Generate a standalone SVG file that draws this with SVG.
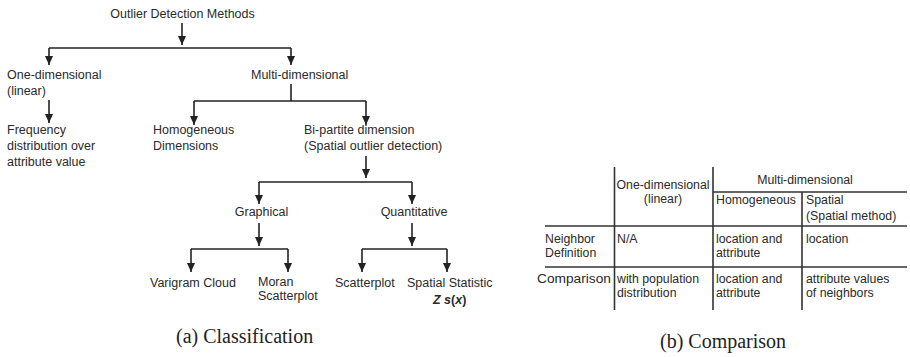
<svg xmlns="http://www.w3.org/2000/svg" width="910" height="357" viewBox="0 0 910 357">
<style>
  text { font-family: "Liberation Sans", Arial, sans-serif; font-size: 12.5px; fill: #2a2a2a; }
  .tb text { font-size: 12.3px; }
  .cap { font-family: "Liberation Serif", "Times New Roman", serif; font-size: 20px; fill: #222; }
  .c { text-anchor: middle; }
  .ln { stroke: #222; stroke-width: 1.6; fill: none; }
  .ar { stroke: #222; stroke-width: 1.6; fill: none; marker-end: url(#ah); }
  .grid { stroke: #333; stroke-width: 1.6; fill: none; }
</style>
<defs>
  <marker id="ah" markerUnits="userSpaceOnUse" markerWidth="9" markerHeight="8" refX="9" refY="4" orient="auto">
    <path d="M0,0 L9,4 L0,8 z" fill="#222"/>
  </marker>
</defs>
<rect width="910" height="357" fill="#fff"/>

<g id="connectors">
  <line class="ar" x1="182" y1="23" x2="182" y2="45"/>
  <polyline class="ln" points="49,48 291,48"/>
  <line class="ar" x1="49" y1="48" x2="49" y2="65"/>
  <line class="ar" x1="291" y1="48" x2="291" y2="65"/>
  <line class="ar" x1="49" y1="100" x2="49" y2="123"/>
  <line class="ln" x1="291" y1="84" x2="291" y2="101"/>
  <line class="ln" x1="194" y1="101" x2="366" y2="101"/>
  <line class="ar" x1="194" y1="101" x2="194" y2="125"/>
  <line class="ar" x1="366" y1="101" x2="366" y2="125"/>
  <line class="ar" x1="366" y1="156" x2="366" y2="178"/>
  <line class="ln" x1="259" y1="182" x2="412" y2="182"/>
  <line class="ar" x1="259" y1="182" x2="259" y2="204"/>
  <line class="ar" x1="412" y1="182" x2="412" y2="204"/>
  <line class="ar" x1="259" y1="223" x2="259" y2="246"/>
  <line class="ln" x1="191" y1="249" x2="288" y2="249"/>
  <line class="ar" x1="191" y1="249" x2="191" y2="272"/>
  <line class="ar" x1="288" y1="249" x2="288" y2="272"/>
  <line class="ar" x1="412" y1="223" x2="412" y2="246"/>
  <line class="ln" x1="362" y1="249" x2="447" y2="249"/>
  <line class="ar" x1="362" y1="249" x2="362" y2="272"/>
  <line class="ar" x1="447" y1="249" x2="447" y2="272"/>
</g>

<g id="root"><text class="c" x="182.5" y="18">Outlier Detection Methods</text></g>
<g id="one-dim"><text x="7" y="79">One-dimensional</text><text x="7" y="95">(linear)</text></g>
<g id="multi-dim"><text x="251" y="79">Multi-dimensional</text></g>
<g id="frequency"><text x="7" y="134">Frequency</text><text x="7" y="150">distribution over</text><text x="7" y="166">attribute value</text></g>
<g id="homogeneous"><text x="153" y="134">Homogeneous</text><text x="153" y="150">Dimensions</text></g>
<g id="bipartite"><text x="304" y="134">Bi-partite dimension</text><text x="304" y="150">(Spatial outlier detection)</text></g>
<g id="graphical"><text class="c" x="261.5" y="216">Graphical</text></g>
<g id="quantitative"><text class="c" x="414" y="216">Quantitative</text></g>
<g id="varigram"><text x="150" y="287">Varigram Cloud</text></g>
<g id="moran"><text x="258" y="286">Moran</text><text x="258" y="300">Scatterplot</text></g>
<g id="scatterplot"><text x="335" y="287">Scatterplot</text></g>
<g id="spatial-statistic"><text x="407" y="287">Spatial Statistic</text><text x="433" y="304" font-weight="bold"><tspan font-style="italic">Z s</tspan>(<tspan font-style="italic">x</tspan>)</text></g>

<text class="cap" x="176" y="343">(a) Classification</text>

<g id="comparison-table" class="tb">
  <line class="grid" x1="614.5" y1="167" x2="614.5" y2="310"/>
  <line class="grid" x1="713" y1="167" x2="713" y2="310"/>
  <line class="grid" x1="802" y1="192" x2="802" y2="310"/>
  <line class="grid" x1="713" y1="192" x2="907" y2="192"/>
  <line class="grid" x1="545" y1="226" x2="907" y2="226"/>
  <line class="grid" x1="545" y1="267" x2="907" y2="267"/>
  <text class="c" x="663" y="189">One-dimensional</text>
  <text class="c" x="663" y="203">(linear)</text>
  <text class="c" x="805" y="184">Multi-dimensional</text>
  <text x="716" y="204">Homogeneous</text>
  <text x="806" y="204">Spatial</text>
  <text x="806" y="220">(Spatial method)</text>
  <text x="545" y="243">Neighbor</text>
  <text x="545" y="257">Definition</text>
  <text x="617" y="243">N/A</text>
  <text x="716" y="243">location and</text>
  <text x="716" y="257">attribute</text>
  <text x="806" y="243">location</text>
  <text x="537" y="283" textLength="74" lengthAdjust="spacingAndGlyphs">Comparison</text>
  <text x="617" y="283">with population</text>
  <text x="617" y="297">distribution</text>
  <text x="716" y="283">location and</text>
  <text x="716" y="297">attribute</text>
  <text x="806" y="283">attribute values</text>
  <text x="806" y="297">of neighbors</text>
</g>

<text class="cap" x="660" y="348">(b) Comparison</text>
</svg>
